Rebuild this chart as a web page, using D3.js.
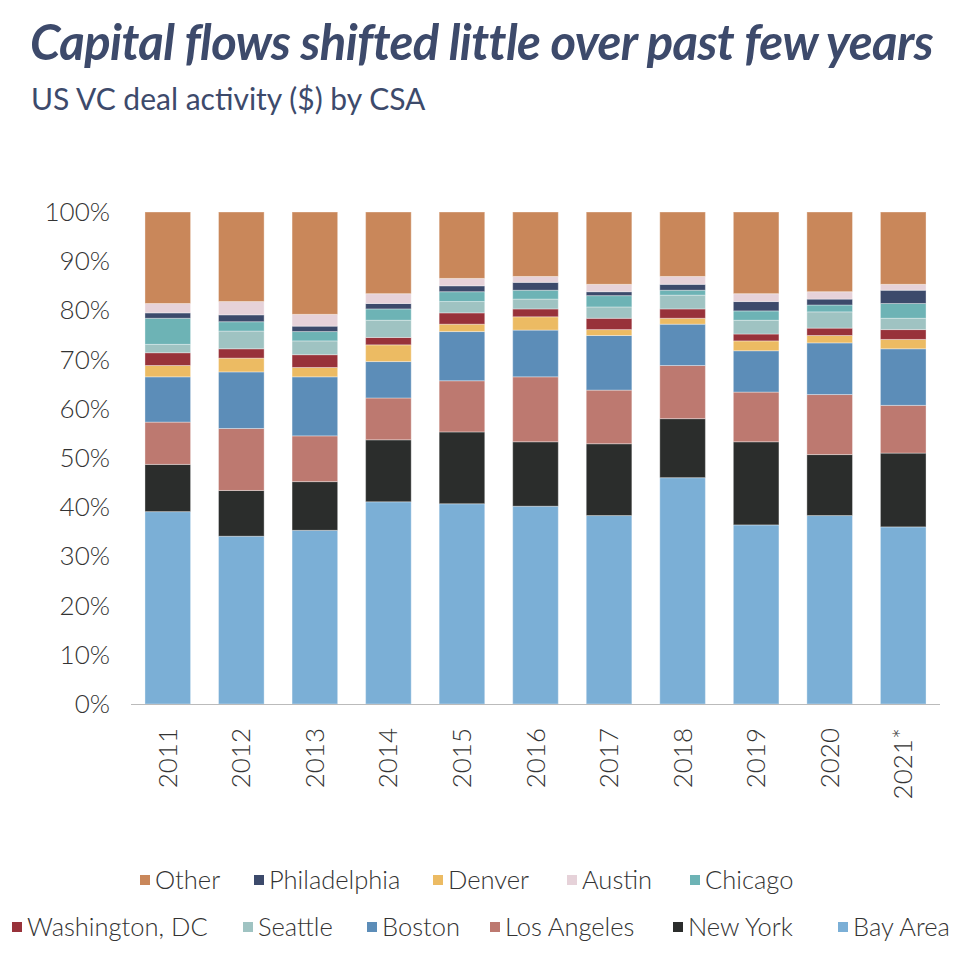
<!DOCTYPE html>
<html><head><meta charset="utf-8">
<script src="https://cdn.jsdelivr.net/npm/d3@7"></script>
<style>body{margin:0;background:#fff;font-family:Lato,sans-serif;}</style>
</head><body><div id="chart"></div>
<script>
const years = ["2011","2012","2013","2014","2015","2016","2017","2018","2019","2020","2021*"];
// stacked bottom to top
const regions = ["Bay Area","New York","Los Angeles","Boston","Denver","Washington, DC","Seattle","Chicago","Philadelphia","Austin","Other"];
const colors = ["#7bafd6","#2b2d2c","#bd7970","#5c8db8","#ecbb63","#98323a","#9fc3c2","#6db3b5","#3c4a6b","#e6d2d9","#c9875a"];
const bayArea     = [39.1,34.1,35.3,41.1,40.7,40.2,38.3,46.0,36.4,38.3,36.0];
const newYork     = [9.6,9.3,9.9,12.6,14.6,13.1,14.6,12.0,16.9,12.4,15.0];
const losAngeles  = [8.6,12.6,9.3,8.5,10.4,13.2,10.9,10.8,10.1,12.2,9.7];
const boston      = [9.2,11.5,12.0,7.4,10.0,9.5,11.1,8.4,8.4,10.5,11.5];
const denver      = [2.3,2.8,1.9,3.4,1.5,2.7,1.2,1.2,2.0,1.5,1.9];
const washington  = [2.6,1.9,2.6,1.5,2.3,1.6,2.3,1.9,1.4,1.5,2.0];
const seattle     = [1.7,3.6,2.8,3.5,2.3,2.0,2.3,2.8,2.8,3.3,2.3];
const chicago     = [5.3,1.9,1.9,2.3,2.0,1.8,2.3,1.0,1.9,1.4,3.0];
const philadelphia= [1.1,1.4,1.1,1.1,1.2,1.6,0.8,1.2,1.9,1.2,2.7];
const austin      = [1.9,2.7,2.4,2.0,1.5,1.2,1.5,1.6,1.6,1.5,1.2];
const other       = [18.6,18.2,20.8,16.6,13.5,13.1,14.7,13.1,16.6,16.2,14.7];
const series = [bayArea,newYork,losAngeles,boston,denver,washington,seattle,chicago,philadelphia,austin,other];
const yTicks = [0,10,20,30,40,50,60,70,80,90,100];
const legendRow1 = ["Other","Philadelphia","Denver","Austin","Chicago"];
const legendRow2 = ["Washington, DC","Seattle","Boston","Los Angeles","New York","Bay Area"];

const W = 978, H = 976;
const svg = d3.select("#chart").append("svg").attr("width", W).attr("height", H);

svg.append("text").attr("x", 30).attr("y", 60)
  .attr("font-size", 49).attr("font-style", "italic").attr("font-weight", 700)
  .attr("fill", "#3d4a6b").attr("letter-spacing", -0.6)
  .text("Capital flows shifted little over past few years");
svg.append("text").attr("x", 31).attr("y", 110)
  .attr("font-size", 30).attr("fill", "#3d4a6b")
  .text("US VC deal activity ($) by CSA");

const x = d3.scaleBand().domain(years).range([131, 940]).paddingInner(0.38).paddingOuter(0.19);
const y = d3.scaleLinear().domain([0, 100]).range([704, 212]);

const rows = years.map((yr, i) => {
  const r = {year: yr};
  regions.forEach((g, j) => r[g] = series[j][i]);
  return r;
});
const stack = d3.stack().keys(regions).offset(d3.stackOffsetExpand)(rows);

svg.append("g").selectAll("g").data(stack).join("g")
  .attr("fill", (d, i) => colors[i])
  .selectAll("rect").data(d => d).join("rect")
  .attr("x", d => x(d.data.year))
  .attr("width", x.bandwidth())
  .attr("y", d => y(d[1] * 100))
  .attr("height", d => y(d[0] * 100) - y(d[1] * 100))
  .attr("stroke", "#fff").attr("stroke-opacity", 0.35).attr("stroke-width", 1);

svg.append("line").attr("x1", 131).attr("x2", 940).attr("y1", 704.5).attr("y2", 704.5)
  .attr("stroke", "#bbb").attr("stroke-width", 1);

svg.append("g").selectAll("text").data(yTicks).join("text")
  .attr("x", 110).attr("y", d => y(d) + 9)
  .attr("text-anchor", "end").attr("font-size", 26).attr("fill", "#333").attr("font-weight", 300)
  .text(d => d + "%");

svg.append("g").selectAll("text").data(years).join("text")
  .attr("transform", d => `translate(${x(d) + x.bandwidth() / 2 + 9},728) rotate(-90)`)
  .attr("text-anchor", "end").attr("font-size", 26).attr("fill", "#333").attr("font-weight", 300)
  .text(d => d);

function legendRow(items, xs, yy) {
  items.forEach((name, i) => {
    const c = colors[regions.indexOf(name)];
    svg.append("rect").attr("x", xs[i]).attr("y", yy - 6).attr("width", 10).attr("height", 10).attr("fill", c);
    svg.append("text").attr("x", xs[i] + 15).attr("y", yy + 8)
      .attr("font-size", 25.5).attr("fill", "#333").attr("font-weight", 300).text(name);
  });
}
legendRow(legendRow1, [140, 254, 433, 567, 690], 881);
legendRow(legendRow2, [12, 243, 367, 490, 673, 838], 928);
</script></body></html>
